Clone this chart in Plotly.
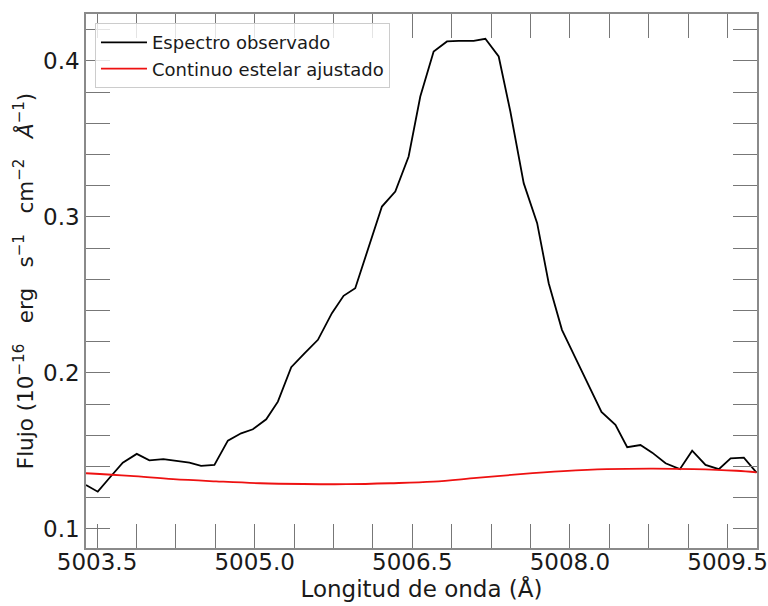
import plotly.graph_objects as go

# Observed spectrum around [O III] 5007
wavelength = [
    5003.395, 5003.507, 5003.626, 5003.745, 5003.878, 5003.998, 5004.131, 5004.252,
    5004.379, 5004.490, 5004.617, 5004.745, 5004.871, 5004.983, 5005.110, 5005.221,
    5005.348, 5005.474, 5005.602, 5005.735, 5005.846, 5005.957, 5006.084, 5006.211,
    5006.338, 5006.465, 5006.576, 5006.703, 5006.830, 5006.941, 5007.084, 5007.195,
    5007.322, 5007.433, 5007.560, 5007.688, 5007.798, 5007.924, 5008.052, 5008.176,
    5008.300, 5008.433, 5008.545, 5008.671, 5008.783, 5008.910, 5009.046, 5009.163,
    5009.290, 5009.417, 5009.529, 5009.655, 5009.776,
]
flux_observed = [
    0.1282, 0.1239, 0.1333, 0.1425, 0.1481, 0.1440, 0.1447, 0.1434,
    0.1425, 0.1404, 0.1410, 0.1566, 0.1613, 0.1639, 0.1703, 0.1816,
    0.2037, 0.2125, 0.2212, 0.2383, 0.2494, 0.2543, 0.2804, 0.3066,
    0.3162, 0.3387, 0.3771, 0.4060, 0.4124, 0.4128, 0.4128, 0.4141,
    0.4028, 0.3675, 0.3216, 0.2960, 0.2575, 0.2276, 0.2096, 0.1923,
    0.1750, 0.1667, 0.1524, 0.1538, 0.1489, 0.1421, 0.1383, 0.1502,
    0.1410, 0.1383, 0.1453, 0.1457, 0.1361,
]

# Fitted stellar continuum
wavelength_cont = [
    5003.395, 5003.814, 5004.224, 5004.633, 5005.052, 5005.462, 5005.871, 5006.290,
    5006.700, 5007.110, 5007.529, 5007.938, 5008.348, 5008.767, 5009.176, 5009.586,
    5009.776,
]
flux_continuum = [
    0.1357, 0.1340, 0.1319, 0.1305, 0.1293, 0.1288, 0.1287, 0.1293,
    0.1303, 0.1327, 0.1351, 0.1370, 0.1383, 0.1387, 0.1384, 0.1373,
    0.1363,
]

x_tick_values = [5003.5, 5005.0, 5006.5, 5008.0, 5009.5]
x_tick_labels = ["5003.5", "5005.0", "5006.5", "5008.0", "5009.5"]
y_tick_values = [0.1, 0.2, 0.3, 0.4]
y_tick_labels = ["0.1", "0.2", "0.3", "0.4"]

FONT = "DejaVu Sans"
AXIS_GREY = "#8a8a8a"
TICK_GREY = "#777777"

fig = go.Figure()
fig.add_trace(go.Scatter(
    x=wavelength, y=flux_observed, mode="lines",
    name="Espectro observado",
    line=dict(color="black", width=1.8),
))
fig.add_trace(go.Scatter(
    x=wavelength_cont, y=flux_continuum, mode="lines",
    name="Continuo estelar ajustado",
    line=dict(color="#ee1111", width=1.8, shape="spline"),
))

nb = "\u00a0"
gap = nb * 3
y_title = (
    f"Flujo (10<sup>−16</sup>{gap}erg{gap}s<sup>−1</sup>{gap}"
    f"cm<sup>−2</sup>{gap}<i>Å</i><sup>−1</sup>)"
)

common_axis = dict(
    showgrid=False, zeroline=False,
    showline=True, linecolor=AXIS_GREY, linewidth=1.5,
    mirror="allticks",
    ticks="inside", ticklen=24, tickwidth=1.2, tickcolor=TICK_GREY,
    tickfont=dict(family=FONT, size=23, color="#1a1a1a"),
    automargin=False,
)

fig.update_layout(
    width=768, height=606,
    margin=dict(l=86, r=11, t=14, b=58),
    paper_bgcolor="white", plot_bgcolor="white",
    font=dict(family=FONT, color="#1a1a1a"),
    showlegend=True,
    legend=dict(
        x=0.0134, y=0.983, xanchor="left", yanchor="top",
        bgcolor="rgba(255,255,255,0.8)",
        bordercolor="#cccccc", borderwidth=1,
        font=dict(family=FONT, size=18, color="#1a1a1a"),
        itemwidth=46,
    ),
    xaxis=dict(
        **common_axis,
        range=[5003.395, 5009.78],
        tickmode="array", tickvals=x_tick_values, ticktext=x_tick_labels,
        ticklabelstandoff=-7,
        minor=dict(ticks="inside", ticklen=24, tickwidth=1.2, tickcolor=TICK_GREY,
                   tick0=5003.5, dtick=0.375),
        title=dict(text="Longitud de onda (Å)", font=dict(family=FONT, size=23),
                   standoff=0),
    ),
    yaxis=dict(
        **common_axis,
        range=[0.0878, 0.430],
        tickmode="array", tickvals=y_tick_values, ticktext=y_tick_labels,
        minor=dict(ticks="inside", ticklen=24, tickwidth=1.2, tickcolor=TICK_GREY,
                   tick0=0.1, dtick=0.02),
        title=dict(text=y_title, font=dict(family=FONT, size=21.5), standoff=4),
    ),
)

fig.write_html("out.html")
